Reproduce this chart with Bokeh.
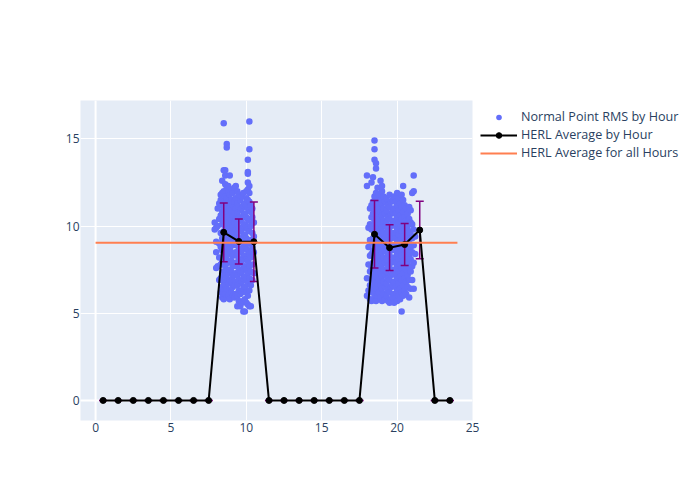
from bokeh.plotting import figure
from bokeh.models import (Range1d, Whisker, ColumnDataSource, Legend, LegendItem,
                          TeeHead, FixedTicker, Span)
from bokeh.embed import file_html
from bokeh.resources import INLINE

# ---------------- data ----------------
# Normal point RMS values, grouped by hour-of-day column: (hour, [rms values])
morning_columns = [
    (7.9, [9.8, 10.2]),
    (8.0, [7.6, 8.5, 9.1, 9.9]),
    (8.1, [7.7, 10.0, 11.0]),
    (8.2, [6.9, 8.2, 9.0, 10.4, 11.3]),
    (8.3, [6.2, 7.0, 7.8, 8.8, 9.6, 10.6, 11.5, 11.8]),
    (8.4, [5.9, 6.5, 7.3, 8.0, 8.6, 9.3, 10.1, 10.8, 11.2, 11.9, 12.6]),
    (8.5, [5.8, 6.3, 6.8, 7.4, 7.9, 8.4, 9.0, 9.7, 10.3, 10.9, 11.4, 12.0, 13.2, 15.9]),
    (8.6, [6.1, 6.6, 7.2, 7.7, 8.2, 8.9, 9.5, 10.0, 10.7, 11.3, 11.7, 12.4, 12.9, 13.2]),
    (8.7, [5.9, 6.4, 7.0, 7.5, 8.1, 8.6, 9.2, 9.8, 10.5, 11.0, 11.6, 12.2, 14.5, 14.7]),
    (8.8, [6.0, 6.7, 7.3, 7.9, 8.4, 9.0, 9.6, 10.2, 10.8, 11.4, 12.0, 12.3]),
    (8.9, [5.8, 6.3, 6.9, 7.5, 8.0, 8.7, 9.3, 9.9, 10.6, 11.1, 11.8, 12.9]),
    (9.0, [6.2, 6.8, 7.4, 8.0, 8.5, 9.1, 9.7, 10.3, 10.9, 11.5, 12.1]),
    (9.1, [6.0, 6.5, 7.1, 7.7, 8.3, 8.9, 9.4, 10.0, 10.6, 11.2, 11.9]),
    (9.2, [5.9, 6.6, 7.2, 7.8, 8.4, 9.0, 9.6, 10.2, 10.8, 11.4, 12.2]),
    (9.3, [6.1, 6.8, 7.3, 7.9, 8.5, 9.2, 9.8, 10.4, 11.0, 11.6, 12.3]),
    (9.4, [5.4, 6.0, 6.6, 7.2, 7.7, 8.3, 8.9, 9.5, 10.1, 10.7, 11.3, 12.0]),
    (9.5, [5.7, 6.3, 6.9, 7.5, 8.1, 8.7, 9.3, 9.9, 10.5, 11.1, 11.8]),
    (9.6, [5.4, 6.1, 6.7, 7.3, 7.9, 8.5, 9.1, 9.7, 10.3, 10.9, 11.5]),
    (9.7, [5.6, 6.2, 6.8, 7.4, 8.0, 8.6, 9.2, 9.8, 10.4, 11.0, 11.7]),
    (9.8, [5.1, 5.7, 6.4, 7.0, 7.6, 8.2, 8.8, 9.4, 10.0, 10.6, 11.2, 11.9]),
    (9.9, [5.1, 5.8, 6.5, 7.1, 7.7, 8.3, 8.9, 9.5, 10.1, 10.7, 11.3]),
    (10.0, [5.6, 6.2, 6.9, 7.5, 8.1, 8.7, 9.3, 9.9, 10.5, 11.1, 11.6, 12.0]),
    (10.1, [5.5, 6.0, 6.7, 7.3, 8.0, 8.6, 9.2, 9.8, 10.4, 11.0, 11.5, 12.1, 12.5, 13.0, 13.1, 13.8]),
    (10.2, [5.4, 6.3, 7.0, 7.7, 8.4, 9.0, 9.7, 10.3, 10.9, 11.4, 11.9, 12.3, 14.4, 16.0]),
    (10.3, [5.4, 6.6, 7.4, 8.2, 9.2, 10.0, 10.8, 11.2]),
    (10.4, [6.9, 7.8, 8.8, 9.6, 10.5, 11.0]),
    (10.5, [7.3, 8.5, 9.4, 10.2]),
]

evening_columns = [
    (18.0, [6.0, 7.0, 12.3, 12.9]),
    (18.1, [6.3, 7.8, 8.8, 9.9]),
    (18.2, [5.8, 6.6, 7.4, 8.3, 9.2, 10.1, 11.0]),
    (18.3, [5.7, 6.2, 6.9, 7.6, 8.4, 9.1, 9.8, 10.5, 11.2, 12.5]),
    (18.4, [5.8, 6.5, 7.2, 7.9, 8.6, 9.3, 10.0, 10.7, 11.4, 12.8]),
    (18.5, [6.1, 6.8, 7.5, 8.2, 8.9, 9.6, 10.3, 11.0, 11.7, 13.8, 14.4, 14.9]),
    (18.6, [5.7, 6.4, 7.1, 7.8, 8.5, 9.2, 9.9, 10.6, 11.3, 11.9, 13.3, 13.6]),
    (18.7, [6.0, 6.7, 7.4, 8.1, 8.8, 9.5, 10.2, 10.9, 11.6, 12.2]),
    (18.8, [6.2, 6.9, 7.6, 8.3, 9.0, 9.7, 10.4, 11.1, 11.8]),
    (18.9, [5.9, 6.6, 7.3, 8.0, 8.7, 9.4, 10.1, 10.8, 11.5, 12.6]),
    (19.0, [5.7, 6.4, 7.1, 7.8, 8.5, 9.2, 9.9, 10.6, 11.3, 12.0, 12.3]),
    (19.1, [6.1, 6.8, 7.5, 8.2, 8.9, 9.6, 10.3, 11.0, 11.7]),
    (19.2, [5.8, 6.5, 7.2, 7.9, 8.6, 9.3, 10.0, 10.7, 11.4]),
    (19.3, [6.0, 6.7, 7.4, 8.1, 8.8, 9.5, 10.2, 10.9, 11.6]),
    (19.4, [5.7, 6.3, 7.0, 7.7, 8.4, 9.1, 9.8, 10.5, 11.2]),
    (19.5, [5.6, 6.2, 6.9, 7.6, 8.3, 9.0, 9.7, 10.4, 11.1, 11.8]),
    (19.6, [5.8, 6.5, 7.2, 7.9, 8.6, 9.3, 10.0, 10.7, 11.4]),
    (19.7, [5.9, 6.6, 7.3, 8.0, 8.7, 9.4, 10.1, 10.8, 11.5]),
    (19.8, [5.6, 6.1, 6.8, 7.5, 8.2, 8.9, 9.6, 10.3, 11.0, 11.7]),
    (19.9, [5.9, 6.5, 7.2, 7.9, 8.6, 9.3, 10.0, 10.7, 11.4]),
    (20.0, [5.7, 6.3, 7.0, 7.7, 8.4, 9.1, 9.8, 10.5, 11.2, 11.9]),
    (20.1, [6.0, 6.7, 7.4, 8.1, 8.8, 9.5, 10.2, 10.9, 11.6]),
    (20.2, [5.8, 6.4, 7.1, 7.8, 8.5, 9.2, 9.9, 10.6, 11.3]),
    (20.3, [5.1, 6.2, 6.9, 7.6, 8.3, 9.0, 9.7, 10.4, 11.1, 11.8]),
    (20.4, [6.0, 6.6, 7.3, 8.0, 8.7, 9.4, 10.1, 10.8, 11.5, 12.3]),
    (20.5, [6.3, 7.0, 7.7, 8.4, 9.1, 9.8, 10.5, 11.2]),
    (20.6, [6.1, 6.8, 7.5, 8.2, 8.9, 9.6, 10.3, 11.0]),
    (20.7, [6.5, 7.2, 7.9, 8.6, 9.3, 10.0, 10.7]),
    (20.8, [5.9, 6.9, 7.6, 8.3, 9.0, 9.7, 10.4, 11.1]),
    (20.9, [6.4, 7.4, 8.1, 8.8, 9.5, 10.2, 10.9]),
    (21.0, [6.9, 7.7, 8.5, 9.3, 10.1, 11.9]),
    (21.1, [6.4, 7.9, 8.9, 9.8, 12.0, 12.9]),
    (21.2, [8.4, 9.4]),
]

hours = [0.5, 1.5, 2.5, 3.5, 4.5, 5.5, 6.5, 7.5, 8.5, 9.5, 10.5, 11.5,
         12.5, 13.5, 14.5, 15.5, 16.5, 17.5, 18.5, 19.5, 20.5, 21.5, 22.5, 23.5]
herl_avg = [0, 0, 0, 0, 0, 0, 0, 0, 9.64, 9.12, 9.10, 0,
            0, 0, 0, 0, 0, 0, 9.53, 8.76, 8.94, 9.77, 0, 0]
herl_std = [0, 0, 0, 0, 0, 0, 0, 0, 1.68, 1.29, 2.28, 0,
            0, 0, 0, 0, 0, 0, 1.93, 1.31, 1.20, 1.65, 0, 0]

overall_x = [0, 24]
overall_avg = 9.05

x_ticks = [0, 5, 10, 15, 20, 25]
y_ticks = [0, 5, 10, 15]

# ---------------- build ----------------
pt_x, pt_y = [], []
for hx, vals in morning_columns + evening_columns:
    for v in vals:
        pt_x.append(hx)
        pt_y.append(v)

FONT = "Open Sans"
TXT = "#2a3f5f"

p = figure(frame_width=392, frame_height=320, output_backend="svg", toolbar_location=None,
           x_range=Range1d(-1.0, 25.0), y_range=Range1d(-1.15, 17.2),
           min_border_left=80, min_border_right=228, min_border_top=100,
           min_border_bottom=80, background_fill_color="#E5ECF6",
           border_fill_color="white", outline_line_color=None)

for ax in (p.xaxis, p.yaxis):
    ax.axis_line_color = None
    ax.major_tick_line_color = None
    ax.minor_tick_line_color = None
    ax.major_tick_out = 0
    ax.major_tick_in = 0
    ax.major_label_text_font = FONT
    ax.major_label_text_font_size = "12px"
    ax.major_label_text_color = TXT
p.xaxis.major_label_standoff = 2
p.yaxis.major_label_standoff = 1
p.xaxis.ticker = FixedTicker(ticks=x_ticks)
p.yaxis.ticker = FixedTicker(ticks=y_ticks)
p.xgrid.ticker = FixedTicker(ticks=x_ticks)
p.ygrid.ticker = FixedTicker(ticks=y_ticks)
p.xgrid.grid_line_color = "white"
p.ygrid.grid_line_color = "white"
p.xgrid.grid_line_width = 1
p.ygrid.grid_line_width = 1

# zero lines
p.add_layout(Span(location=0, dimension="height", line_color="white", line_width=2,
                  level="underlay"))
p.add_layout(Span(location=0, dimension="width", line_color="white", line_width=2,
                  level="underlay"))

r_pts = p.scatter(pt_x, pt_y, size=6.5, color="#636efa", line_color=None)

src = ColumnDataSource(dict(
    hour=hours, avg=herl_avg,
    upper=[a + s for a, s in zip(herl_avg, herl_std)],
    lower=[a - s for a, s in zip(herl_avg, herl_std)],
))
wh = Whisker(source=src, base="hour", upper="upper", lower="lower",
             line_color="purple", line_width=1.5, level="annotation",
             upper_head=TeeHead(size=8, line_color="purple", line_width=1.5),
             lower_head=TeeHead(size=8, line_color="purple", line_width=1.5))
p.add_layout(wh)

r_line = p.line("hour", "avg", source=src, line_color="black", line_width=2,
                level="overlay")
r_dots = p.scatter("hour", "avg", source=src, size=6, color="black",
                   level="overlay")

r_all = p.line(overall_x, [overall_avg, overall_avg], line_color="#FF7F50",
               line_width=2, level="overlay")

legend = Legend(items=[
    LegendItem(label="Normal Point RMS by Hour", renderers=[r_pts]),
    LegendItem(label="HERL Average by Hour", renderers=[r_line, r_dots]),
    LegendItem(label="HERL Average for all Hours", renderers=[r_all]),
], location="top_left", padding=0, margin=8, spacing=1,
    glyph_width=37, glyph_height=14, label_height=14, label_standoff=4,
    label_text_font=FONT, label_text_font_size="12.6px", label_text_color=TXT,
    background_fill_alpha=0, border_line_color=None)
p.add_layout(legend, "right")

open("out.html", "w").write(file_html(p, INLINE))
